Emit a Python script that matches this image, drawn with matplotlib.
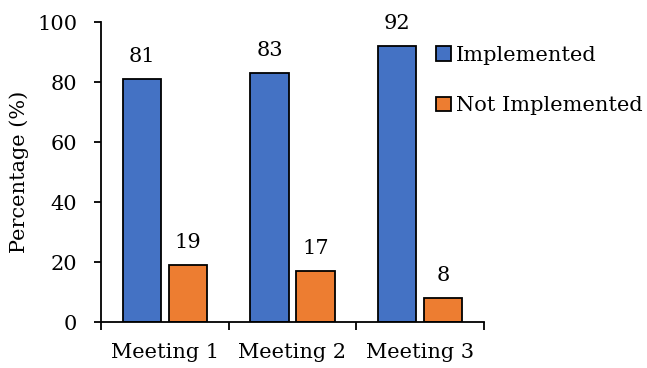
import matplotlib
matplotlib.use("Agg")
import matplotlib.pyplot as plt
import numpy as np

categories = ["Meeting 1", "Meeting 2", "Meeting 3"]
implemented = [81, 83, 92]
not_implemented = [19, 17, 8]
series_names = ["Implemented", "Not Implemented"]
colors = ["#4472C4", "#ED7D31"]

plt.rcParams["font.family"] = ["DejaVu Serif"]
plt.rcParams["font.size"] = 15

fig = plt.figure(figsize=(6.47, 3.68), dpi=100)
ax = fig.add_axes([101 / 647, 1 - 322 / 368, (484 - 101) / 647, 300 / 368])

x = np.arange(len(categories))
w = 0.30
off = 0.18
b1 = ax.bar(x - off, implemented, w, color=colors[0], edgecolor="black", linewidth=1.3,
            label=series_names[0])
b2 = ax.bar(x + off, not_implemented, w, color=colors[1], edgecolor="black", linewidth=1.3,
            label=series_names[1])
for bars, vals in ((b1, implemented), (b2, not_implemented)):
    for r, v in zip(bars, vals):
        ax.annotate(str(v), (r.get_x() + r.get_width() / 2, v), xytext=(0, 12),
                    textcoords="offset points", ha="center", va="baseline")

ax.set_xlim(-0.5, 2.5)
ax.set_ylim(0, 100)
ax.set_yticks(range(0, 101, 20))
ax.set_xticks(x)
ax.set_xticklabels(categories)
ax.set_xticks([-0.5, 0.5, 1.5, 2.5], minor=True)
ax.tick_params(axis="x", which="major", length=0, pad=15)
ax.tick_params(axis="x", which="minor", length=6, width=1.3, direction="out")
ax.tick_params(axis="y", length=5, width=1.3, direction="out", pad=12)
for s in ("top", "right"):
    ax.spines[s].set_visible(False)
for s in ("left", "bottom"):
    ax.spines[s].set_linewidth(1.3)
ax.set_ylabel("Percentage (%)", labelpad=6)

ax.legend(loc="upper left", bbox_to_anchor=(436 / 647, 1 - 46 / 368),
          bbox_transform=fig.transFigure, frameon=False, borderpad=0, borderaxespad=0,
          handlelength=0.7, handleheight=0.7, handletextpad=0.25, labelspacing=1.5)

fig.savefig("out.png", dpi=100)
